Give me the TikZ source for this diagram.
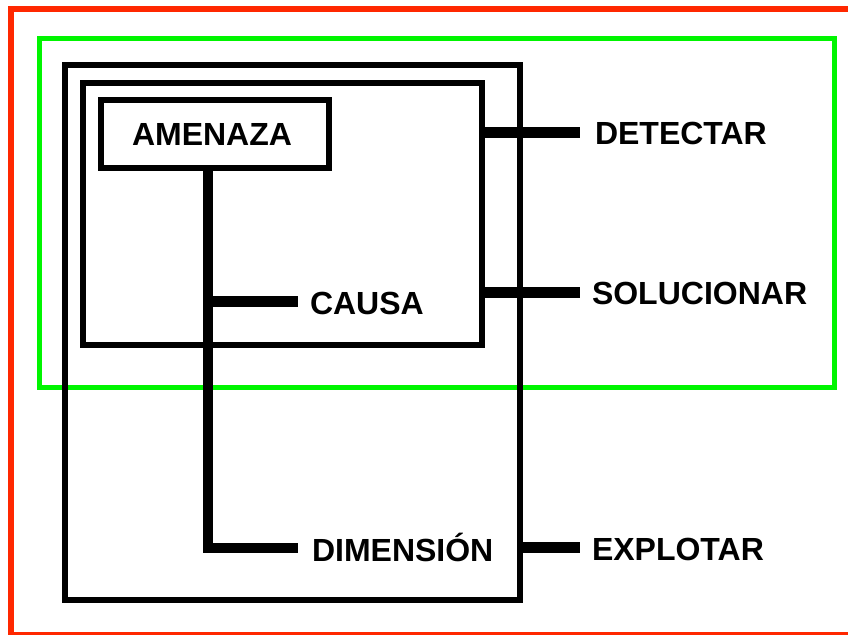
\documentclass[tikz,border=0pt]{standalone}
\usepackage{fontspec}
\setmainfont{Liberation Sans}
\definecolor{framered}{RGB}{255,40,0}
\definecolor{framegreen}{RGB}{0,245,0}
\begin{document}
\begin{tikzpicture}[x=1pt,y=-1pt,
  box/.style={draw=black,line width=5.5pt,rectangle,inner sep=0pt,outer sep=0pt},
  lbl/.style={anchor=west,inner sep=0pt,outer sep=0pt,text height=23pt,text depth=0pt,
    font=\fontsize{32}{38}\selectfont\bfseries},
  branch/.style={line width=11pt,line cap=butt}]
\useasboundingbox (0,0) rectangle (848,634);
\fill[white] (0,0) rectangle (848,634);
% frames
\draw[framered,line width=6pt] (11,9) rectangle (870,635);
\draw[framegreen,line width=5pt] (39,39) rectangle (834,387);
% boxes
\node[box,minimum width=455pt,minimum height=535pt] (outer) at (292.5,332.5) {};
\node[box,minimum width=399pt,minimum height=262pt] (inner) at (282.5,214) {};
\node[box,minimum width=228pt,minimum height=68pt] (amenaza) at (215,134) {};
\node[lbl,anchor=center] (amenazaText) at (212,134) {AMENAZA};
% labels
\node[lbl] (causa) at (310,303) {CAUSA};
\node[lbl] (dim) at (312,550) {DIMENSIÓN};
\node[lbl] (det) at (595,133) {DETECTAR};
\node[lbl] (sol) at (592,293) {SOLUCIONAR};
\node[lbl] (exp) at (592,549) {EXPLOTAR};
% trunk
\coordinate (trunk) at (208,548);
\draw[line width=10.5pt,line join=miter] (amenaza.south -| trunk) -- (trunk) -- ([xshift=-14pt]dim.west |- trunk);
\draw[branch] (trunk |- 0,301) -- ([xshift=-12pt]causa.west |- 0,301);
% right branches
\draw[branch] (inner.east |- 0,132) -- ([xshift=-15pt]det.west |- 0,132);
\draw[branch] (inner.east |- 0,292) -- ([xshift=-12pt]sol.west |- 0,292);
\draw[branch] (outer.east |- 0,547) -- ([xshift=-12pt]exp.west |- 0,547);
\end{tikzpicture}
\end{document}
